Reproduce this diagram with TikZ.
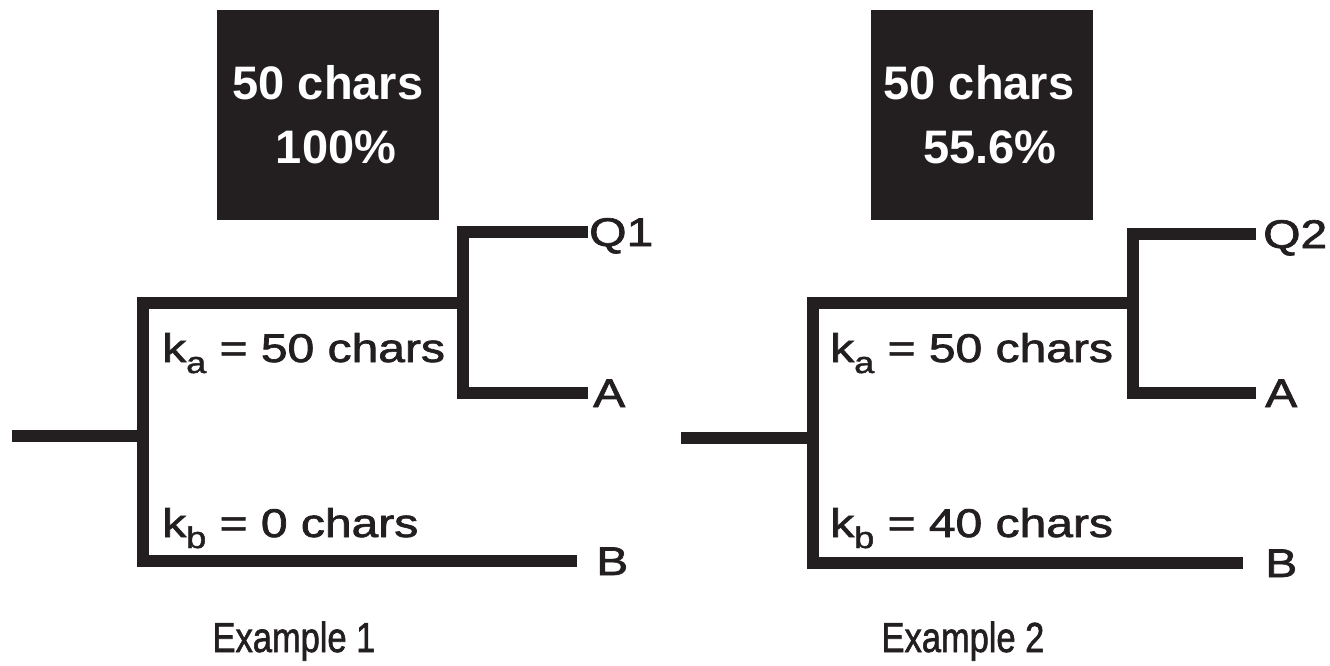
\documentclass[tikz,border=0pt]{standalone}
\usepackage{graphicx}
\usepackage{fontspec}
\setmainfont{Liberation Sans}
\newfontfamily\medfont[FakeBold=1.6]{Liberation Sans}
\definecolor{ink}{RGB}{35,31,32}
\newcommand{\wdtxt}[1]{\scalebox{1.2}[1]{#1}}
\newcommand{\subtxt}[1]{\raisebox{-11pt}{\fontsize{30}{30}\selectfont #1}}
\begin{document}
\begin{tikzpicture}[x=1pt,y=-1pt,
  br/.style={draw=ink, line width=12pt, line cap=butt, line join=miter},
  lab/.style={anchor=base west, inner sep=0pt, text=ink, font=\medfont\fontsize{40}{40}\selectfont},
  leaf/.style={anchor=base west, inner sep=0pt, text=ink, font=\medfont\fontsize{40}{40}\selectfont},
  boxtxt/.style={anchor=base, inner sep=0pt, text=white, font=\bfseries\fontsize{47}{47}\selectfont},
  excap/.style={anchor=base, inner sep=0pt, text=ink, font=\medfont\fontsize{42}{42}\selectfont},
  blk/.style={fill=ink, draw=none}]
\useasboundingbox (0,0) rectangle (1330,666);

% ---------- Example 1 ----------
\fill[blk] (217,10) rectangle (439,220);
\node[boxtxt] (b1a) at (328,100) {50 chars};
\node[boxtxt] (b1b) at (336,163) {100\%};

\coordinate (r1) at (12,436);
\coordinate (n1) at (143,436);
\coordinate (u1) at (463,303);
\coordinate (q1e) at (588,232);
\coordinate (a1e) at (588,393);
\coordinate (b1e) at (577,561);

\draw[br] (r1) -- (n1);
\draw[br] (u1) -- (143,303) -- (143,561) -- (b1e);
\draw[br] (q1e) -- (463,232) -- (463,393) -- (a1e);

\node[leaf] (Q1) at (589,246) {\wdtxt{Q1}};
\node[leaf] (A1) at (593,407) {\wdtxt{A}};
\node[leaf] (B1) at (596,575) {\wdtxt{B}};

\node[lab] (ka1) at (162,362) {\wdtxt{k\subtxt{a} = 50 chars}};
\node[lab] (kb1) at (162,537) {\wdtxt{k\subtxt{b} = 0 chars}};

\node[excap] (ex1) at (294,652) {\scalebox{0.82}[1]{Example 1}};

% ---------- Example 2 ----------
\fill[blk] (871,10) rectangle (1093,220);
\node[boxtxt] (b2a) at (979,100) {50 chars};
\node[boxtxt] (b2b) at (990,163) {55.6\%};

\coordinate (r2) at (681,438);
\coordinate (n2) at (813,438);
\coordinate (u2) at (1133,303);
\coordinate (q2e) at (1256,234);
\coordinate (a2e) at (1256,393);
\coordinate (b2e) at (1243,563);

\draw[br] (r2) -- (n2);
\draw[br] (u2) -- (813,303) -- (813,563) -- (b2e);
\draw[br] (q2e) -- (1133,234) -- (1133,393) -- (a2e);

\node[leaf] (Q2) at (1263,248) {\wdtxt{Q2}};
\node[leaf] (A2) at (1265,407) {\wdtxt{A}};
\node[leaf] (B2) at (1265,577) {\wdtxt{B}};

\node[lab] (ka2) at (830,362) {\wdtxt{k\subtxt{a} = 50 chars}};
\node[lab] (kb2) at (830,537) {\wdtxt{k\subtxt{b} = 40 chars}};

\node[excap] (ex2) at (963,652) {\scalebox{0.82}[1]{Example 2}};
\end{tikzpicture}
\end{document}
